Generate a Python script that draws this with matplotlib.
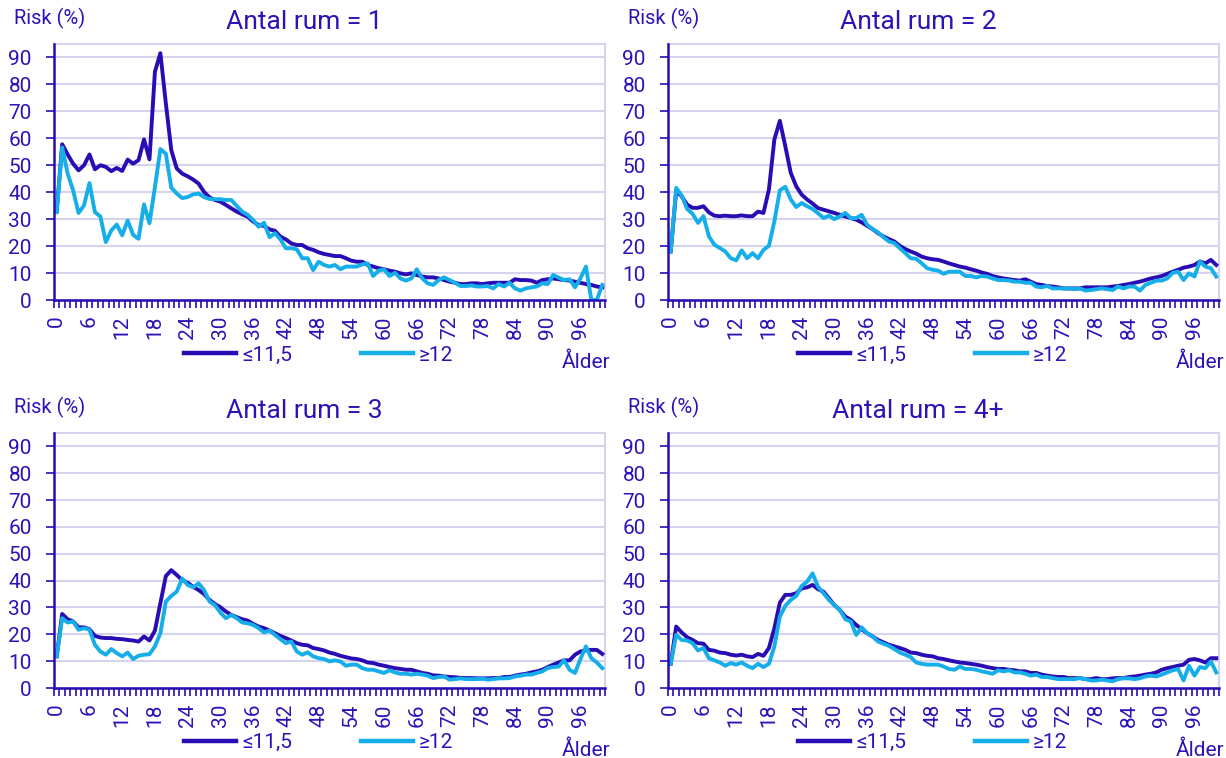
import matplotlib
matplotlib.use("Agg")
import matplotlib.pyplot as plt
from matplotlib.lines import Line2D

plt.rcParams['font.family'] = ['Roboto', 'DejaVu Sans']

ages = list(range(101))
tick_ages = list(range(0, 97, 6))
titles = ["Antal rum = 1", "Antal rum = 2", "Antal rum = 3", "Antal rum = 4+"]
series_names = ["≤11,5", "≥12"]

r1_low = [
    33.0, 57.8, 54.0, 50.6, 48.1, 50.0, 54.0, 48.5, 50.0, 49.4,
    47.8, 49.0, 47.9, 52.1, 50.6, 51.9, 59.6, 52.2, 84.7, 91.6,
    73.0, 55.6, 48.8, 46.9, 45.9, 44.7, 43.2, 40.1, 38.1, 37.1,
    36.5, 35.3, 34.0, 32.8, 31.8, 30.9, 29.1, 27.8, 27.5, 26.2,
    25.7, 23.5, 22.5, 21.0, 20.4, 20.4, 19.2, 18.6, 17.7, 17.1,
    16.7, 16.3, 16.3, 15.5, 14.6, 14.2, 14.2, 13.0, 12.4, 11.8,
    11.4, 10.9, 10.5, 9.9, 9.5, 9.9, 9.3, 8.7, 8.4, 8.4,
    8.0, 7.4, 6.8, 6.4, 5.9, 5.9, 6.2, 6.2, 5.9, 6.2,
    6.4, 6.4, 6.4, 6.4, 7.7, 7.4, 7.4, 7.2, 6.4, 7.4,
    7.7, 8.0, 7.7, 7.4, 7.2, 6.8, 6.4, 5.9, 5.6, 5.0,
    4.7]
r1_high = [
    32.6, 56.6, 46.9, 40.7, 32.3, 35.1, 43.4, 32.6, 31.0, 21.5,
    25.8, 28.0, 24.0, 29.5, 24.2, 22.7, 35.5, 28.5, 41.9, 56.0,
    54.3, 41.7, 39.5, 37.8, 38.2, 39.2, 39.5, 38.2, 37.5, 37.4,
    37.4, 37.1, 37.1, 34.9, 32.8, 31.6, 29.7, 27.2, 28.7, 23.3,
    24.8, 22.5, 19.2, 19.2, 18.8, 15.5, 15.5, 11.1, 14.2, 13.0,
    12.4, 13.0, 11.4, 12.4, 12.4, 12.4, 13.2, 13.6, 8.9, 10.9,
    11.4, 8.9, 10.1, 8.0, 7.2, 8.0, 11.4, 8.0, 6.2, 5.6,
    7.4, 8.4, 7.4, 6.4, 5.2, 5.2, 5.4, 5.0, 5.0, 5.2,
    4.3, 5.9, 5.0, 6.4, 4.3, 3.5, 4.3, 4.7, 5.0, 6.2,
    5.9, 9.3, 8.3, 7.4, 7.7, 4.7, 8.0, 12.4, 0.0, 0.0,
    5.6]
r2_low = [
    18.0, 40.5, 38.5, 35.4, 34.2, 34.2, 34.8, 32.5, 31.3, 31.1,
    31.3, 31.1, 31.1, 31.4, 31.1, 31.1, 32.8, 32.3, 41.0, 59.6,
    66.5, 57.1, 47.2, 42.2, 39.1, 37.3, 35.8, 34.1, 33.5, 32.9,
    32.3, 31.6, 31.0, 30.4, 29.8, 28.8, 27.5, 26.3, 24.8, 23.6,
    22.6, 21.7, 20.1, 18.9, 18.0, 17.2, 16.1, 15.5, 15.1, 14.9,
    14.3, 13.6, 13.0, 12.4, 12.0, 11.4, 10.9, 10.2, 9.7, 8.9,
    8.4, 8.0, 7.7, 7.4, 7.2, 7.7, 6.8, 5.9, 5.6, 5.2,
    5.0, 4.7, 4.3, 4.3, 4.3, 4.3, 4.7, 4.7, 4.7, 4.7,
    4.7, 5.0, 5.2, 5.6, 5.9, 6.4, 6.8, 7.4, 8.0, 8.4,
    8.9, 9.7, 10.5, 11.2, 12.0, 12.4, 13.0, 14.3, 13.6, 14.9,
    13.0]
r2_high = [
    18.0, 41.6, 38.8, 33.8, 32.0, 28.6, 31.1, 23.6, 20.5, 19.3,
    18.0, 15.5, 14.7, 18.4, 15.5, 17.4, 15.5, 18.6, 20.1, 29.2,
    40.7, 42.0, 37.3, 34.5, 36.0, 34.8, 33.8, 32.2, 30.4, 31.3,
    30.0, 31.0, 32.3, 30.4, 30.4, 31.6, 27.9, 26.3, 25.1, 23.3,
    21.7, 21.1, 19.2, 17.4, 15.5, 15.3, 13.6, 11.8, 11.2, 10.9,
    9.7, 10.5, 10.5, 10.5, 8.9, 8.9, 8.4, 8.9, 8.7, 8.0,
    7.4, 7.4, 7.2, 6.8, 6.8, 6.4, 6.4, 5.0, 4.7, 5.2,
    4.3, 4.3, 4.3, 4.3, 4.0, 4.3, 3.5, 3.7, 4.0, 4.3,
    4.0, 3.7, 5.0, 4.3, 5.0, 5.0, 3.5, 5.6, 6.4, 7.2,
    7.2, 8.0, 10.1, 10.5, 7.4, 9.9, 8.7, 14.3, 12.4, 11.8,
    8.7]
r3_low = [
    11.8, 27.6, 25.6, 24.8, 22.6, 22.6, 21.9, 19.4, 18.8, 18.6,
    18.6, 18.3, 18.2, 17.9, 17.7, 17.3, 19.2, 17.7, 21.4, 31.6,
    41.7, 43.9, 42.1, 40.2, 39.2, 37.7, 36.5, 35.0, 32.8, 31.3,
    30.1, 28.5, 27.2, 26.4, 25.6, 25.1, 23.9, 22.9, 22.3, 21.4,
    20.4, 19.4, 18.6, 17.7, 16.7, 16.1, 15.9, 14.9, 14.5, 14.0,
    13.2, 12.7, 12.0, 11.5, 11.0, 10.8, 10.3, 9.5, 9.3, 8.7,
    8.3, 7.8, 7.4, 7.1, 6.8, 6.8, 6.2, 5.6, 5.3, 4.7,
    4.6, 4.3, 4.1, 4.0, 3.8, 3.7, 3.7, 3.6, 3.6, 3.6,
    3.7, 3.7, 4.1, 4.1, 4.6, 5.0, 5.3, 5.8, 6.2, 6.8,
    7.8, 8.7, 9.5, 10.3, 10.3, 12.4, 13.6, 14.0, 14.2, 14.2,
    12.7]
r3_high = [
    11.8, 26.0, 24.4, 24.8, 21.7, 22.3, 21.7, 16.1, 13.6, 12.4,
    14.5, 13.0, 11.8, 13.2, 10.8, 12.0, 12.4, 12.6, 15.5, 20.4,
    32.2, 34.3, 35.9, 40.8, 38.4, 37.5, 39.0, 36.5, 32.2, 30.9,
    28.1, 26.0, 27.2, 26.0, 24.4, 24.1, 23.5, 22.3, 20.7, 21.4,
    19.8, 18.2, 16.7, 17.3, 13.6, 12.4, 13.3, 11.8, 11.1, 10.8,
    9.9, 10.3, 9.9, 8.3, 8.7, 8.7, 7.4, 6.8, 6.8, 6.2,
    5.6, 6.6, 5.8, 5.3, 5.3, 5.0, 5.3, 5.0, 4.6, 3.7,
    4.1, 4.3, 3.1, 3.3, 3.6, 3.3, 3.3, 3.3, 3.5, 3.1,
    3.3, 3.6, 3.6, 3.7, 4.3, 4.6, 5.0, 5.0, 5.6, 6.2,
    7.4, 7.8, 8.0, 10.3, 6.8, 5.6, 10.8, 15.5, 11.1, 9.5,
    7.4]
r4_low = [
    9.0, 22.9, 20.7, 18.9, 17.9, 16.7, 16.5, 14.2, 13.9, 13.2,
    13.0, 12.4, 12.1, 12.4, 11.8, 11.5, 12.7, 12.0, 14.9, 22.3,
    31.8, 34.7, 34.7, 35.3, 37.1, 37.5, 38.4, 36.8, 35.9, 33.4,
    30.9, 29.1, 26.6, 25.4, 23.5, 21.9, 20.4, 19.2, 17.9, 17.0,
    16.1, 15.5, 14.9, 14.2, 13.2, 13.0, 12.4, 12.0, 11.8, 11.1,
    10.8, 10.3, 9.9, 9.5, 9.3, 9.0, 8.7, 8.3, 7.8, 7.4,
    7.1, 7.1, 6.8, 6.6, 6.2, 6.2, 5.6, 5.6, 5.0, 4.6,
    4.3, 4.1, 4.1, 3.7, 3.7, 3.7, 3.3, 3.3, 3.7, 3.3,
    3.3, 3.6, 3.7, 3.7, 4.1, 4.3, 4.6, 5.0, 5.3, 5.8,
    6.8, 7.4, 7.8, 8.3, 8.7, 10.5, 10.8, 10.3, 9.5, 11.1,
    11.1]
r4_high = [
    9.0, 19.8, 17.9, 17.7, 16.7, 14.0, 14.9, 11.1, 10.3, 9.5,
    8.3, 9.3, 8.7, 9.5, 8.3, 7.4, 9.0, 7.8, 9.0, 15.5,
    26.6, 30.6, 32.8, 34.3, 38.0, 39.6, 42.7, 37.7, 35.3, 32.8,
    30.9, 29.1, 25.6, 24.8, 19.8, 22.6, 20.4, 19.2, 17.3, 16.5,
    15.7, 14.5, 13.2, 12.4, 11.5, 9.5, 9.0, 8.7, 8.7, 8.7,
    8.0, 7.1, 6.8, 8.0, 7.1, 7.1, 6.8, 6.2, 5.8, 5.3,
    6.6, 6.2, 6.6, 5.8, 5.8, 5.3, 4.6, 5.0, 4.1, 4.1,
    3.7, 3.3, 3.3, 3.3, 3.3, 3.7, 3.3, 2.8, 2.8, 3.1,
    2.8, 2.5, 3.3, 3.6, 3.6, 3.3, 3.6, 4.3, 4.6, 4.3,
    5.0, 5.8, 6.6, 7.1, 2.8, 8.3, 4.6, 7.8, 7.4, 9.9,
    5.8]

low_series = [r1_low, r2_low, r3_low, r4_low]
high_series = [r1_high, r2_high, r3_high, r4_high]

DARK = "#2a0cb4"
CYAN = "#16aee8"
TEXT = "#2a14b8"
GRID = "#d4d4ee"

W, H = 1226, 758
fig = plt.figure(figsize=(W / 100, H / 100), dpi=100)
fig.patch.set_facecolor("white")

# panel boxes in pixels: left, right, top, bottom
boxes = [(54, 605, 44, 300), (668, 1219, 44, 300),
         (54, 605, 433, 688), (668, 1219, 433, 688)]

for k in range(4):
    l, r, t, b = boxes[k]
    ax = fig.add_axes([l / W, 1 - b / H, (r - l) / W, (b - t) / H])
    ax.plot(ages, low_series[k], color=DARK, lw=2.8, solid_joinstyle="round", zorder=3)
    ax.plot(ages, high_series[k], color=CYAN, lw=2.8, solid_joinstyle="round", zorder=4)
    ax.set_xlim(-0.5, 100.5)
    ax.set_ylim(0, 95)
    ax.set_yticks(range(0, 91, 10))
    ax.set_xticks(tick_ages)
    ax.set_xticks([a - 0.5 for a in ages] + [100.5], minor=True)
    ax.set_xticklabels([str(a) for a in tick_ages], rotation=90)
    ax.tick_params(axis="x", which="major", length=0, pad=11, labelsize=15, colors=TEXT)
    ax.tick_params(axis="x", which="minor", length=6, width=1.2, color=DARK, direction="out")
    ax.tick_params(axis="y", length=6, width=1.2, color=DARK, pad=10, labelsize=15, labelcolor=TEXT)
    ax.grid(axis="y", color=GRID, lw=1.5, zorder=0)
    ax.set_axisbelow(True)
    for s in ["top", "right"]:
        ax.spines[s].set_color(GRID)
        ax.spines[s].set_linewidth(1.5)
    for s in ["left", "bottom"]:
        ax.spines[s].set_color(DARK)
        ax.spines[s].set_linewidth(1.8)
        ax.spines[s].set_zorder(5)
    ax.text(0.454, 1.085, titles[k], transform=ax.transAxes, ha="center", va="center",
            fontsize=19, color=TEXT)
    ax.text(-0.073, 1.10, "Risk (%)", transform=ax.transAxes, ha="left", va="center",
            fontsize=14.5, color=TEXT)
    ax.text(1.009, -0.245, "Ålder", transform=ax.transAxes, ha="right", va="center",
            fontsize=15, color=TEXT)
    handles = [Line2D([], [], color=DARK, lw=3.2), Line2D([], [], color=CYAN, lw=3.2)]
    ax.legend(handles, series_names, loc="center", bbox_to_anchor=(0.48, -0.215),
              ncol=2, frameon=False, fontsize=15, labelcolor=TEXT, handlelength=2.5,
              handletextpad=0.3, columnspacing=3.3, borderaxespad=0)

fig.savefig("out.png", dpi=100, facecolor="white")
